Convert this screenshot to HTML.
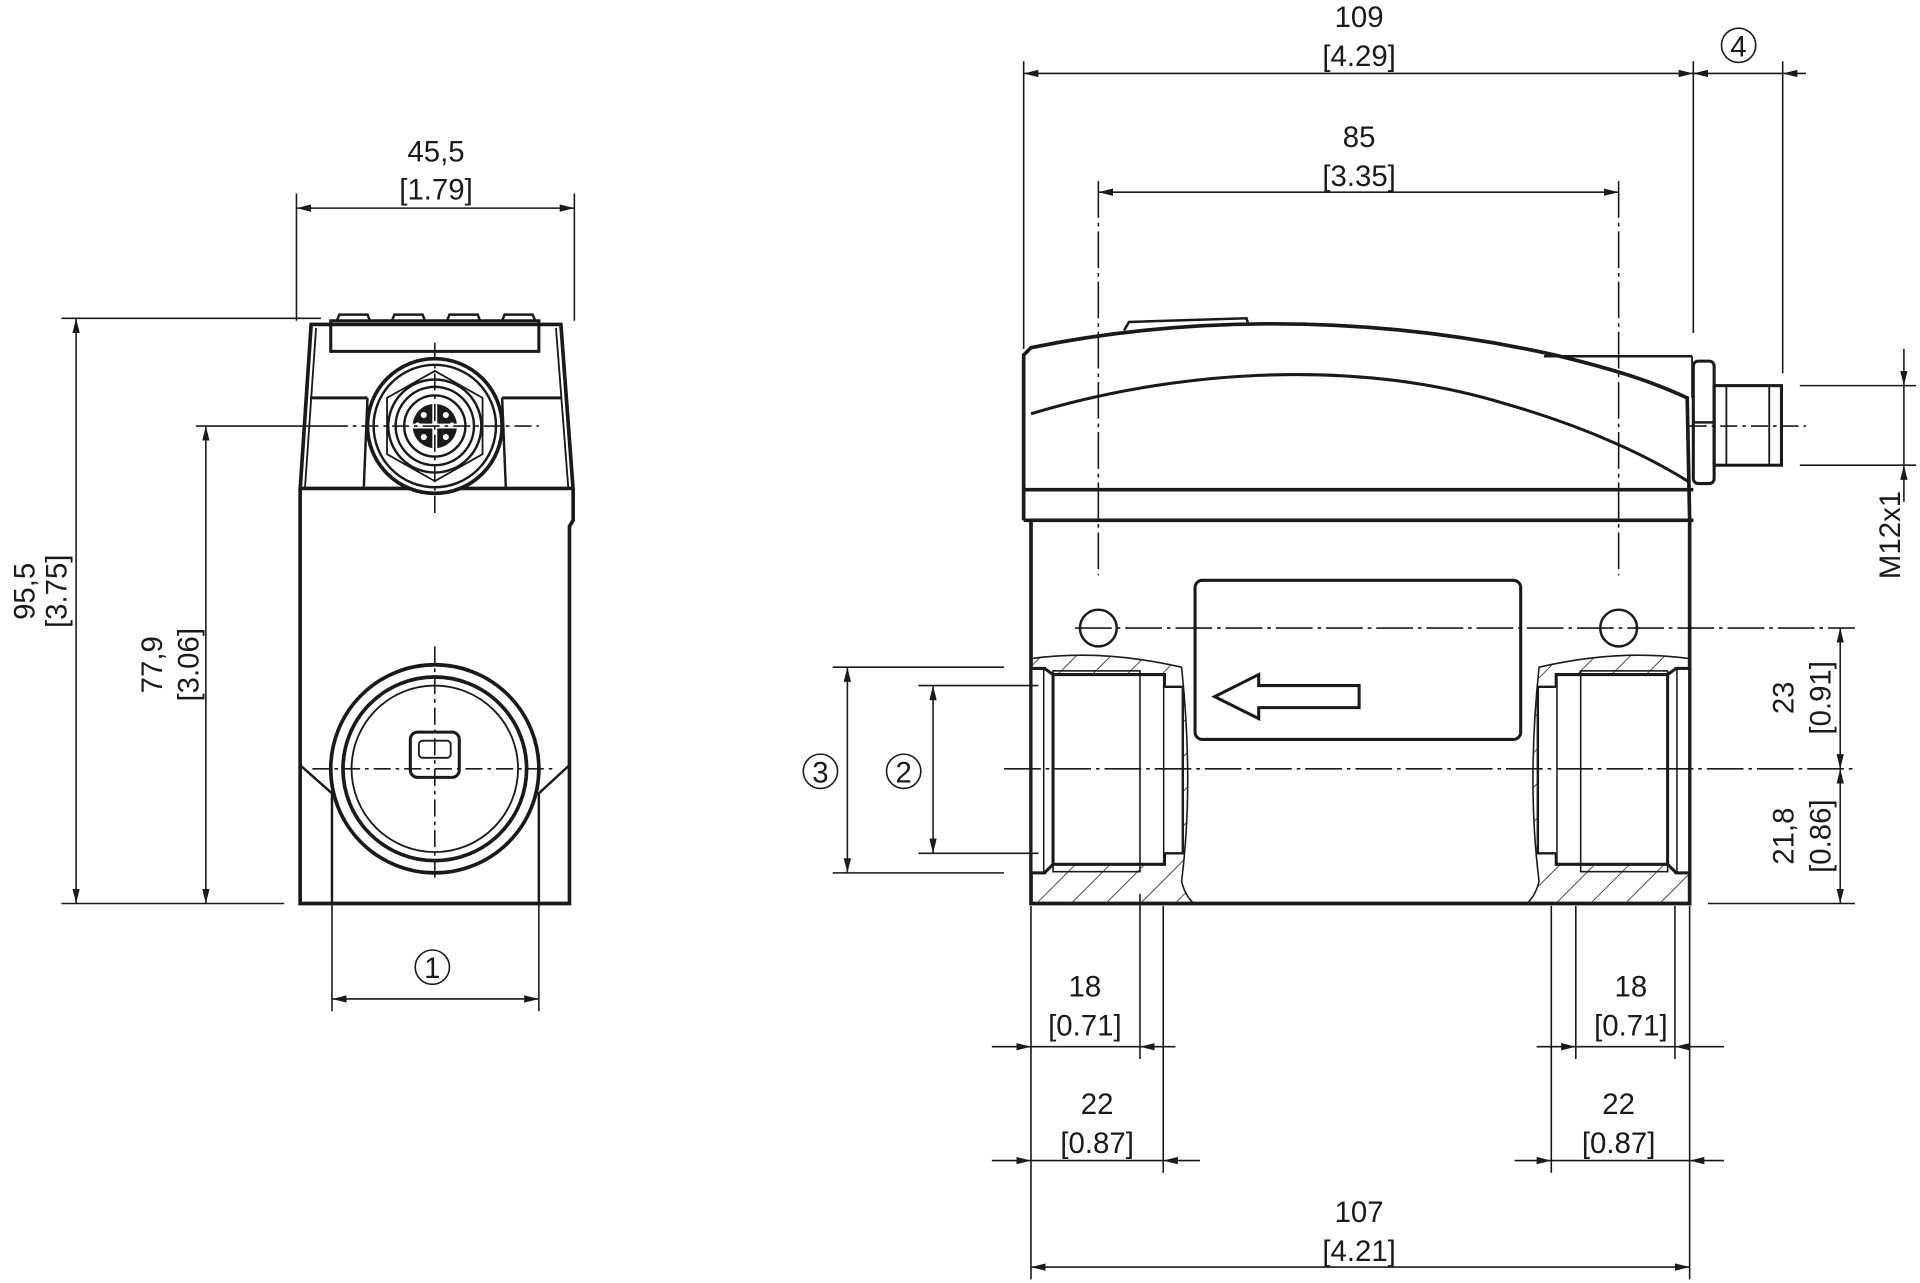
<!DOCTYPE html>
<html><head><meta charset="utf-8"><style>
html,body{margin:0;padding:0;background:#fff;}
svg{display:block;}
text{font-family:"Liberation Sans",sans-serif;font-size:24px;fill:#1a1a1a;text-anchor:middle;}
</style></head><body>
<svg width="1920" height="1283" viewBox="0 0 1568 1048" xmlns="http://www.w3.org/2000/svg">
<defs>
<marker id="a" viewBox="0 0 12 6" refX="12" refY="3" markerWidth="12" markerHeight="6" orient="auto-start-reverse" markerUnits="userSpaceOnUse"><path d="M0,0 L12,3 L0,6z" fill="#1a1a1a"/></marker>
<pattern id="h" width="20" height="20" patternUnits="userSpaceOnUse" patternTransform="rotate(45)"><line x1="0" y1="0" x2="0" y2="20" stroke="#333" stroke-width="1.4"/></pattern>
</defs>
<g stroke="#1a1a1a" fill="none" stroke-width="1.3">
<!-- LEFT VIEW dims -->
<line x1="242" y1="158" x2="242" y2="262"/><line x1="469" y1="158" x2="469" y2="262"/>
<line x1="242" y1="170" x2="469" y2="170" marker-start="url(#a)" marker-end="url(#a)"/>
<line x1="50" y1="260" x2="262" y2="260"/><line x1="50" y1="738" x2="232" y2="738"/>
<line x1="62" y1="260" x2="62" y2="738" marker-start="url(#a)" marker-end="url(#a)"/>
<line x1="160" y1="348" x2="270" y2="348"/>
<line x1="168" y1="348" x2="168" y2="738" marker-start="url(#a)" marker-end="url(#a)"/>
<line x1="271" y1="650" x2="271" y2="826"/><line x1="440" y1="650" x2="440" y2="826"/>
<line x1="271" y1="816" x2="440" y2="816" marker-start="url(#a)" marker-end="url(#a)"/>
<circle cx="353" cy="790" r="14"/>
<!-- LEFT body -->
<g stroke-width="3">
<path d="M254,265 L458,265 L468,400 L468,425 L465,430 L465,738 L245,738 L245,400 Z"/>
<line x1="244" y1="399" x2="469" y2="399"/>
<circle cx="355" cy="348" r="55" fill="#fff"/>
<circle cx="355" cy="628" r="85"/>
<circle cx="355" cy="628" r="75"/>
</g>
<path d="M258,268 L249,398 M454,268 L464,398" stroke-width="1.5"/>
<path d="M270,262 L440,262 L440,287 L270,287 Z" stroke-width="2.5"/>
<path d="M275,262 L277,257 L300,257 L302,262 M320,262 L322,257 L345,257 L347,262 M365,262 L367,257 L390,257 L392,262 M410,262 L412,257 L435,257 L437,262" stroke-width="2"/>
<path d="M253,325 L300,325 M410,325 L458,325" stroke-width="2.5"/>
<line x1="300" y1="325" x2="297" y2="398" stroke-width="2"/><line x1="410" y1="325" x2="413" y2="398" stroke-width="2"/>
<circle cx="355" cy="348" r="50" stroke-width="2"/>
<polygon points="355,303 394,325 394,371 355,393 316,371 316,325" stroke-width="1.5"/>
<circle cx="355" cy="348" r="38" stroke-width="2"/><circle cx="355" cy="348" r="32" stroke-width="2"/><circle cx="355" cy="348" r="25" stroke-width="2"/>
<g fill="#1a1a1a" stroke="none"><path d="M353,330 A18,18 0 0 0 337,346 L353,346Z"/><path d="M357,330 A18,18 0 0 1 373,346 L357,346Z"/><path d="M353,366 A18,18 0 0 1 337,350 L353,350Z"/><path d="M357,366 A18,18 0 0 0 373,350 L357,350Z"/></g>
<g fill="#fff" stroke="none"><circle cx="346" cy="339" r="2.5"/><circle cx="364" cy="339" r="2.5"/><circle cx="346" cy="357" r="2.5"/><circle cx="364" cy="357" r="2.5"/><circle cx="341" cy="347" r="2"/><circle cx="369" cy="347" r="2"/></g>
<circle cx="355" cy="628" r="68" stroke-width="1.5"/>
<rect x="335" y="598" width="40" height="37" rx="6" stroke-width="2.5"/>
<rect x="342" y="605" width="26" height="14" rx="3" stroke-width="1.5"/>
<path d="M245,625 L271,648 L271,738 M465,625 L440,648 L440,738" stroke-width="2"/>
<line x1="355" y1="280" x2="355" y2="420" stroke-dasharray="14,4,3,4"/>
<line x1="270" y1="348" x2="440" y2="348" stroke-dasharray="14,4,3,4"/>
<line x1="355" y1="528" x2="355" y2="720" stroke-dasharray="14,4,3,4"/>
<line x1="255" y1="628" x2="455" y2="628" stroke-dasharray="14,4,3,4"/>

<!-- RIGHT VIEW dims -->
<line x1="836" y1="50" x2="836" y2="285"/><line x1="1383" y1="50" x2="1383" y2="272"/>
<line x1="836" y1="60" x2="1383" y2="60" marker-start="url(#a)" marker-end="url(#a)"/>
<line x1="1456" y1="50" x2="1456" y2="305"/>
<line x1="1395" y1="60" x2="1383" y2="60" marker-end="url(#a)"/>
<line x1="1475" y1="60" x2="1456" y2="60" marker-end="url(#a)"/>
<line x1="1383" y1="60" x2="1456" y2="60"/>
<circle cx="1420" cy="37" r="14"/>
<line x1="897" y1="148" x2="897" y2="470" stroke-dasharray="30,4,3,4"/><line x1="1322" y1="148" x2="1322" y2="470" stroke-dasharray="30,4,3,4"/>
<line x1="897" y1="157" x2="1322" y2="157" marker-start="url(#a)" marker-end="url(#a)"/>
<line x1="1470" y1="315" x2="1565" y2="315"/><line x1="1470" y1="380" x2="1565" y2="380"/>
<line x1="1555" y1="285" x2="1555" y2="315" marker-end="url(#a)"/>
<line x1="1555" y1="410" x2="1555" y2="380" marker-end="url(#a)"/>
<line x1="1555" y1="315" x2="1555" y2="380"/>
<!-- RIGHT body -->
<g stroke-width="3">
<path d="M836,425 L836,290 L842,284 C950,262 1100,252 1270,290 C1320,302 1350,312 1378,325 L1380,425"/>
<line x1="836" y1="400" x2="1383" y2="400"/>
<path d="M836,425 L1383,425"/>
<path d="M842,425 L842,738 L1380,738 L1380,425"/>
</g>
<line x1="1261" y1="291" x2="1382" y2="291" stroke-width="2"/>
<line x1="1382" y1="291" x2="1382" y2="325" stroke-width="1.5"/>
<path d="M842,338 C950,305 1100,290 1230,330 C1300,350 1350,375 1380,394" stroke-width="2.5"/>
<path d="M918,270 L922,263 L1018,260 L1020,266" stroke-width="2"/>
<rect x="1383" y="295" width="17" height="100" rx="4" stroke-width="2.5"/>
<line x1="1383" y1="345" x2="1400" y2="345" stroke-width="2"/>
<rect x="1400" y="315" width="55" height="65" stroke-width="2.5"/>
<line x1="1410" y1="315" x2="1410" y2="380" stroke-width="1.5"/>
<line x1="1445" y1="315" x2="1445" y2="380" stroke-width="1.5"/>
<line x1="1380" y1="348" x2="1475" y2="348" stroke-dasharray="14,4,3,4"/>
<rect x="976" y="474" width="266" height="130" rx="6" stroke-width="2.5"/>
<path d="M992,569 L1028,551 L1028,560 L1110,560 L1110,578 L1028,578 L1028,587 Z" stroke-width="2.5"/>
<circle cx="897" cy="513" r="15" stroke-width="2"/><circle cx="1322" cy="513" r="15" stroke-width="2"/>
<line x1="878" y1="513" x2="1515" y2="513" stroke-dasharray="30,4,3,4"/>
<!-- ports -->
<path d="M842,538 Q900,530 965,545 Q975,640 965,720 Q968,732 975,738 L842,738 Z" fill="url(#h)" stroke="none"/>
<path d="M1380,538 Q1322,530 1257,545 Q1247,640 1257,720 Q1254,732 1247,738 L1380,738 Z" fill="url(#h)" stroke="none"/>
<path d="M842,538 Q900,530 965,545 Q975,640 965,720 Q968,732 975,738" stroke-width="1.3"/>
<path d="M1380,538 Q1322,530 1257,545 Q1247,640 1257,720 Q1254,732 1247,738" stroke-width="1.3"/>
<!-- left port -->
<rect x="842" y="546" width="11" height="167" fill="#fff" stroke-width="2.5"/>
<path d="M853,546 L860,551 L951,551 L951,706 L860,706 L853,713" fill="#fff" stroke-width="2.5"/>
<line x1="860" y1="551" x2="860" y2="706" stroke-width="2.5"/>
<path d="M951,561 L966,561 L966,697 L951,697" fill="#fff" stroke-width="2"/>
<rect x="860" y="548" width="71" height="164" stroke-width="1.3"/>
<!-- right port -->
<rect x="1369" y="546" width="11" height="167" fill="#fff" stroke-width="2.5"/>
<path d="M1369,546 L1362,551 L1271,551 L1271,706 L1362,706 L1369,713" fill="#fff" stroke-width="2.5"/>
<line x1="1362" y1="551" x2="1362" y2="706" stroke-width="2.5"/>
<path d="M1271,561 L1256,561 L1256,697 L1271,697" fill="#fff" stroke-width="2"/>
<rect x="1291" y="548" width="71" height="164" stroke-width="1.3"/>
<line x1="820" y1="628" x2="1515" y2="628" stroke-dasharray="30,4,3,4"/>
<!-- port dims -->
<line x1="680" y1="545" x2="820" y2="545"/><line x1="680" y1="713" x2="820" y2="713"/>
<line x1="692" y1="545" x2="692" y2="713" marker-start="url(#a)" marker-end="url(#a)"/>
<line x1="750" y1="560" x2="848" y2="560"/><line x1="750" y1="697" x2="848" y2="697"/>
<line x1="762" y1="560" x2="762" y2="697" marker-start="url(#a)" marker-end="url(#a)"/>
<circle cx="670" cy="630" r="14"/><circle cx="738" cy="630" r="14"/>
<line x1="1503" y1="513" x2="1503" y2="628" marker-start="url(#a)" marker-end="url(#a)"/>
<line x1="1503" y1="628" x2="1503" y2="738" marker-start="url(#a)" marker-end="url(#a)"/>
<line x1="1395" y1="738" x2="1515" y2="738"/>
<!-- bottom dims -->
<line x1="842" y1="740" x2="842" y2="1045"/><line x1="1380" y1="740" x2="1380" y2="1045"/>
<line x1="931" y1="730" x2="931" y2="865"/><line x1="950" y1="740" x2="950" y2="958"/>
<line x1="1287" y1="740" x2="1287" y2="865"/><line x1="1267" y1="740" x2="1267" y2="958"/>
<line x1="1368" y1="740" x2="1368" y2="865"/>
<line x1="810" y1="855" x2="842" y2="855" marker-end="url(#a)"/><line x1="960" y1="855" x2="931" y2="855" marker-end="url(#a)"/><line x1="842" y1="855" x2="931" y2="855"/>
<line x1="810" y1="948" x2="842" y2="948" marker-end="url(#a)"/><line x1="980" y1="948" x2="950" y2="948" marker-end="url(#a)"/><line x1="842" y1="948" x2="950" y2="948"/>
<line x1="1255" y1="855" x2="1287" y2="855" marker-end="url(#a)"/><line x1="1408" y1="855" x2="1368" y2="855" marker-end="url(#a)"/><line x1="1287" y1="855" x2="1368" y2="855"/>
<line x1="1237" y1="948" x2="1267" y2="948" marker-end="url(#a)"/><line x1="1408" y1="948" x2="1380" y2="948" marker-end="url(#a)"/><line x1="1267" y1="948" x2="1380" y2="948"/>
<line x1="842" y1="1035" x2="1380" y2="1035" marker-start="url(#a)" marker-end="url(#a)"/>
</g>
<!-- TEXT -->
<text x="356" y="132">45,5</text><text x="356" y="163">[1.79]</text>
<text transform="translate(28,483) rotate(-90)">95,5</text><text transform="translate(54,483) rotate(-90)">[3.75]</text>
<text transform="translate(132,543) rotate(-90)">77,9</text><text transform="translate(162,543) rotate(-90)">[3.06]</text>
<text x="353" y="799" font-size="20">1</text>
<text x="1110" y="22">109</text><text x="1110" y="54">[4.29]</text>
<text x="1420" y="46" font-size="20">4</text>
<text x="1110" y="120">85</text><text x="1110" y="152">[3.35]</text>
<text transform="translate(1552,437) rotate(-90)">M12x1</text>
<text x="670" y="639" font-size="20">3</text><text x="738" y="639" font-size="20">2</text>
<text transform="translate(1465,570) rotate(-90)">23</text><text transform="translate(1495,570) rotate(-90)">[0.91]</text>
<text transform="translate(1465,683) rotate(-90)">21,8</text><text transform="translate(1495,683) rotate(-90)">[0.86]</text>
<text x="886" y="814">18</text><text x="886" y="846">[0.71]</text>
<text x="896" y="910">22</text><text x="896" y="942">[0.87]</text>
<text x="1332" y="814">18</text><text x="1332" y="846">[0.71]</text>
<text x="1322" y="910">22</text><text x="1322" y="942">[0.87]</text>
<text x="1110" y="998">107</text><text x="1110" y="1030">[4.21]</text>
</svg>
</body></html>
